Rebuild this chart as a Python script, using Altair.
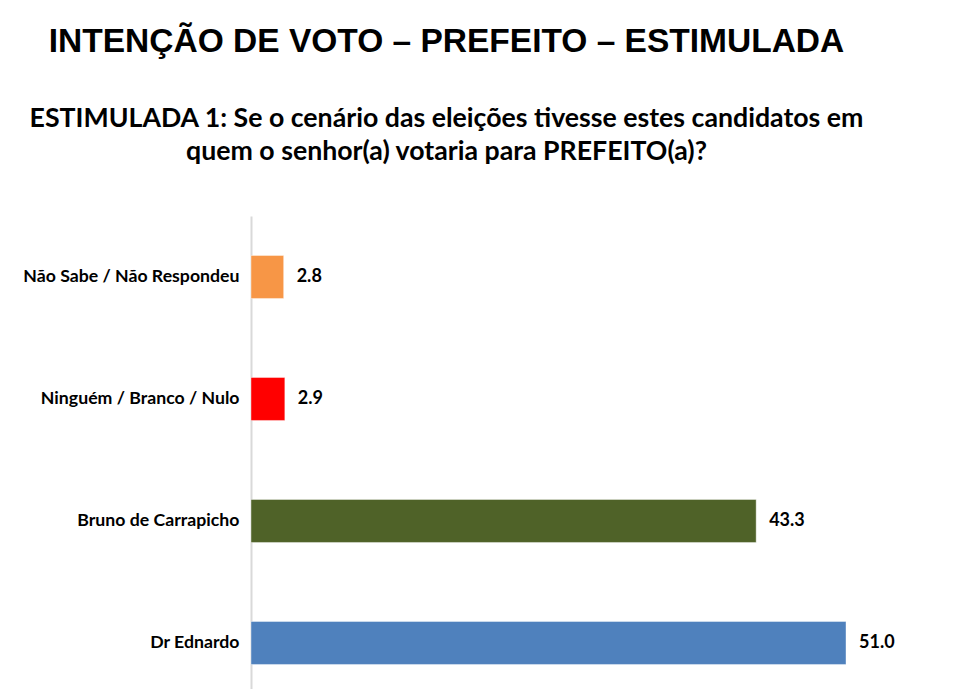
import altair as alt
import pandas as pd

categories = ["Não Sabe / Não Respondeu", "Ninguém / Branco / Nulo", "Bruno de Carrapicho", "Dr Ednardo"]
values = [2.8, 2.9, 43.3, 51.0]
bar_colors = ["#F79646", "#FF0000", "#4F6228", "#4F81BD"]

df = pd.DataFrame({"categoria": categories, "valor": values})

y_enc = alt.Y("categoria:N", sort=categories, title=None,
              scale=alt.Scale(paddingInner=0.648, paddingOuter=0.324),
              axis=alt.Axis(labelFont="Lato", labelFontWeight="bold", labelFontSize=17.7,
                            labelColor="#000000", labelPadding=12, ticks=False,
                            domainColor="#d9d9d9", domainWidth=2,
                            minExtent=243, maxExtent=243, labelLimit=300))
x_enc = alt.X("valor:Q", scale=alt.Scale(domain=[0, 60]), axis=None)

bars = alt.Chart(df).mark_bar(stroke="#ffffff", strokeOpacity=0.4, strokeWidth=1).encode(
    x=x_enc,
    y=y_enc,
    color=alt.Color("categoria:N", scale=alt.Scale(domain=categories, range=bar_colors), legend=None),
)

labels = alt.Chart(df).mark_text(align="left", baseline="middle", dx=13,
                                 font="Lato", fontWeight="bold", fontSize=18, color="#000000").encode(
    x=x_enc,
    y=y_enc,
    text=alt.Text("valor:Q", format=".1f"),
)

chart = (bars + labels).properties(
    width=700,
    height=488,
    padding={"left": 0, "top": 17, "right": 0, "bottom": 0},
    title=alt.TitleParams(
        text="INTENÇÃO DE VOTO – PREFEITO – ESTIMULADA",
        subtitle=["ESTIMULADA 1: Se o cenário das eleições tivesse estes candidatos em",
                  "quem o senhor(a) votaria para PREFEITO(a)?"],
        anchor="middle",
        frame="bounds",
        dx=-33,
        font="Liberation Sans", fontSize=33.5, fontWeight="bold", color="#000000",
        subtitleFont="Lato", subtitleFontSize=26.7, subtitleFontWeight="bold",
        subtitleColor="#000000", subtitleLineHeight=33, subtitlePadding=46,
        offset=49.5,
    ),
).configure_view(stroke=None)

chart.save("out.html", embed_options={"renderer": "svg", "actions": False})
